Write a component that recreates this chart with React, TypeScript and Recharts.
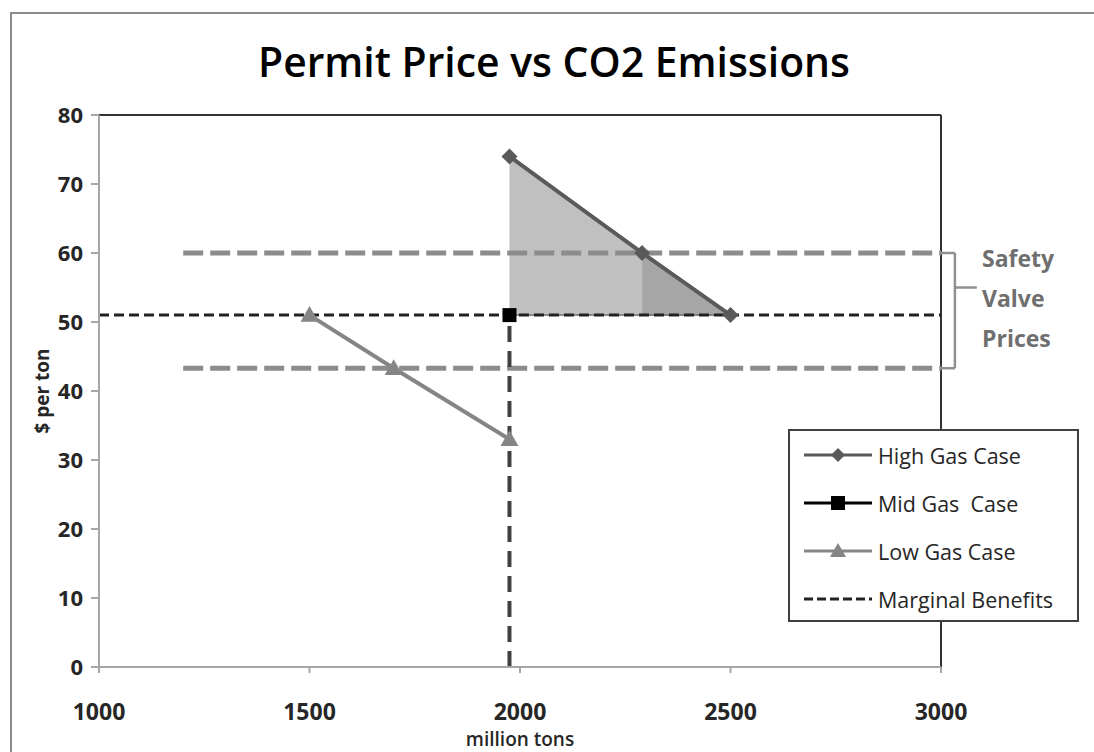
import React from "react";
import {
  Area,
  ComposedChart,
  Line,
  ReferenceLine,
  XAxis,
  YAxis,
} from "recharts";

const TITLE = "Permit Price vs CO2 Emissions";

const xTicks = [1000, 1500, 2000, 2500, 3000];
const yTicks = [0, 10, 20, 30, 40, 50, 60, 70, 80];

// emissions (million tons) vs permit price ($/ton)
const highGasX = [1975, 2290, 2500];
const highGasY = [74, 60, 51];
const midGasX = [1975];
const midGasY = [51];
const lowGasX = [1500, 1700, 1975];
const lowGasY = [51, 43.3, 33];

const marginalBenefitPrice = 51;
const marginalBenefitQty = 1975;
const safetyValvePrices = [60, 43.3];
const safetyValveFrom = 1200;
const safetyValveLabel = ["Safety", "Valve", "Prices"];

const toPoints = (xs: number[], ys: number[]) => xs.map((x, i) => ({ x, y: ys[i] }));

const highGas = toPoints(highGasX, highGasY);
const midGas = toPoints(midGasX, midGasY);
const lowGas = toPoints(lowGasX, lowGasY);

// shaded triangles under the high gas curve, above marginal benefits
const bigTriangle = [
  { x: highGasX[0], r: [marginalBenefitPrice, highGasY[0]] },
  { x: highGasX[2], r: [marginalBenefitPrice, highGasY[2]] },
];
const smallTriangle = [
  { x: highGasX[1], r: [marginalBenefitPrice, highGasY[1]] },
  { x: highGasX[2], r: [marginalBenefitPrice, highGasY[2]] },
];

const mbHorizontal = [
  { x: xTicks[0], y: marginalBenefitPrice },
  { x: xTicks[xTicks.length - 1], y: marginalBenefitPrice },
];
const mbVertical = [
  { x: marginalBenefitQty, y: 0 },
  { x: marginalBenefitQty, y: marginalBenefitPrice },
];
const safetyLines = safetyValvePrices.map((p) => [
  { x: safetyValveFrom, y: p },
  { x: xTicks[xTicks.length - 1], y: p },
]);

const FONT = "'Open Sans', 'DejaVu Sans', sans-serif";
const HIGH_COLOR = "#5a5a5a";
const LOW_COLOR = "#858585";
const AXIS_COLOR = "#a6a6a6";
const BRACE_COLOR = "#8f8f8f";

function Diamond({ cx, cy, size = 7, color = HIGH_COLOR }: any) {
  if (cx == null || cy == null) return null;
  return (
    <polygon
      points={`${cx},${cy - size} ${cx + size},${cy} ${cx},${cy + size} ${cx - size},${cy}`}
      fill={color}
    />
  );
}

function Square({ cx, cy, size = 7, color = "#000" }: any) {
  if (cx == null || cy == null) return null;
  return <rect x={cx - size} y={cy - size} width={size * 2} height={size * 2} fill={color} />;
}

function Triangle({ cx, cy, size = 8, color = LOW_COLOR }: any) {
  if (cx == null || cy == null) return null;
  return (
    <polygon
      points={`${cx},${cy - size} ${cx + size},${cy + size * 0.75} ${cx - size},${cy + size * 0.75}`}
      fill={color}
    />
  );
}

const legendItems = [
  { name: "High Gas Case", color: HIGH_COLOR, marker: "diamond" },
  { name: "Mid Gas  Case", color: "#000", marker: "square" },
  { name: "Low Gas Case", color: LOW_COLOR, marker: "triangle" },
  { name: "Marginal Benefits", color: "#222", marker: "dash" },
];

function LegendBox() {
  return (
    <div
      style={{
        position: "absolute",
        left: 788,
        top: 429,
        width: 287,
        height: 189,
        border: "2px solid #404040",
        background: "#fff",
        fontFamily: FONT,
        fontSize: 21.5,
        color: "#262626",
      }}
    >
      {legendItems.map((it, i) => (
        <div
          key={it.name}
          style={{
            position: "absolute",
            left: 12,
            top: 10 + i * 48,
            height: 28,
            display: "flex",
            alignItems: "center",
            whiteSpace: "pre",
          }}
        >
          <svg width={72} height={28} style={{ marginRight: 4 }}>
            {it.marker === "dash" ? (
              <line x1={2} x2={70} y1={14} y2={14} stroke={it.color} strokeWidth={3} strokeDasharray="9 4" />
            ) : (
              <line x1={2} x2={70} y1={14} y2={14} stroke={it.color} strokeWidth={3} />
            )}
            {it.marker === "diamond" && <Diamond cx={36} cy={14} size={7} color={it.color} />}
            {it.marker === "square" && <Square cx={36} cy={14} size={7} color={it.color} />}
            {it.marker === "triangle" && <Triangle cx={36} cy={14} size={8} color={it.color} />}
          </svg>
          <span>{it.name}</span>
        </div>
      ))}
    </div>
  );
}

export default function App() {
  return (
    <div
      style={{
        position: "absolute",
        left: 0,
        top: 0,
        width: 1094,
        height: 752,
        overflow: "hidden",
        background: "#fff",
      }}
    >
      <div
        style={{
          position: "absolute",
          left: 10,
          top: 12,
          width: 1200,
          height: 900,
          borderTop: "2px solid #8c8c8c",
          borderLeft: "2px solid #8c8c8c",
        }}
      />
      <svg width={1094} height={100} style={{ position: "absolute", left: 0, top: 0 }}>
        <text
          x={554}
          y={77}
          textAnchor="middle"
          textLength={592}
          lengthAdjust="spacingAndGlyphs"
          fontFamily={FONT}
          fontWeight={600}
          fontSize={42}
          fill="#000"
        >
          {TITLE}
        </text>
      </svg>
      <ComposedChart
        width={1094}
        height={752}
        margin={{ top: 115, right: 153, bottom: 0, left: 39 }}
        style={{ position: "absolute", left: 0, top: 0 }}
      >
        <XAxis
          type="number"
          dataKey="x"
          domain={[xTicks[0], xTicks[xTicks.length - 1]]}
          ticks={xTicks}
          allowDataOverflow
          height={85}
          tickSize={6}
          tickMargin={31}
          stroke={AXIS_COLOR}
          strokeWidth={2}
          tick={{ fill: "#262626", fontSize: 23, fontWeight: 700, fontFamily: FONT }}
          label={{
            value: "million tons",
            position: "insideBottom",
            offset: 6,
            style: { fill: "#262626", fontSize: 19, fontWeight: 600, fontFamily: FONT },
          }}
        />
        <YAxis
          type="number"
          dataKey="y"
          domain={[yTicks[0], yTicks[yTicks.length - 1]]}
          ticks={yTicks}
          width={60}
          tickSize={8}
          tickMargin={8}
          stroke={AXIS_COLOR}
          strokeWidth={2}
          tick={{ fill: "#262626", fontSize: 22, fontWeight: 700, fontFamily: FONT }}
          label={{
            value: "$ per ton",
            angle: -90,
            position: "insideLeft",
            offset: 3,
            style: { textAnchor: "middle", fill: "#262626", fontSize: 19, fontWeight: 700, fontFamily: FONT },
          }}
        />
        <ReferenceLine y={yTicks[yTicks.length - 1]} stroke="#333" strokeWidth={2} />
        <ReferenceLine x={xTicks[xTicks.length - 1]} stroke="#333" strokeWidth={2} />

        {safetyLines.map((d, i) => (
          <Line
            key={`sv${i}`}
            data={d}
            dataKey="y"
            stroke="#8c8c8c"
            strokeWidth={5}
            strokeDasharray="20 7"
            dot={false}
            activeDot={false}
            legendType="none"
            isAnimationActive={false}
          />
        ))}
        <Line
          data={mbHorizontal}
          dataKey="y"
          stroke="#222"
          strokeWidth={3}
          strokeDasharray="10 5"
          dot={false}
          activeDot={false}
          isAnimationActive={false}
        />
        <Line
          data={mbVertical}
          dataKey="y"
          stroke="#404040"
          strokeWidth={4}
          strokeDasharray="16 9"
          dot={false}
          activeDot={false}
          isAnimationActive={false}
        />
        <Line
          data={lowGas}
          dataKey="y"
          name="Low Gas Case"
          stroke={LOW_COLOR}
          strokeWidth={4}
          dot={(p: any) => <Triangle key={`lt${p.index}`} cx={p.cx} cy={p.cy} size={9} />}
          activeDot={false}
          isAnimationActive={false}
        />
        <Area
          data={bigTriangle}
          dataKey="r"
          type="linear"
          fill="#c0c0c0"
          fillOpacity={1}
          stroke="#8a8a8a"
          strokeWidth={2}
          dot={false}
          activeDot={false}
          isAnimationActive={false}
        />
        <Area
          data={smallTriangle}
          dataKey="r"
          type="linear"
          fill="#a6a6a6"
          fillOpacity={1}
          stroke="#7f7f7f"
          strokeWidth={2}
          dot={false}
          activeDot={false}
          isAnimationActive={false}
        />
        <Line
          data={highGas}
          dataKey="y"
          name="High Gas Case"
          stroke={HIGH_COLOR}
          strokeWidth={4}
          dot={(p: any) => <Diamond key={`hd${p.index}`} cx={p.cx} cy={p.cy} size={8} />}
          activeDot={false}
          isAnimationActive={false}
        />
        <Line
          data={midGas}
          dataKey="y"
          name="Mid Gas Case"
          stroke="#000"
          strokeWidth={3}
          dot={(p: any) => <Square key={`ms${p.index}`} cx={p.cx} cy={p.cy} size={7} />}
          activeDot={false}
          isAnimationActive={false}
        />

        {/* brace next to the safety valve band */}
        <ReferenceLine
          segment={[{ x: 3000, y: safetyValvePrices[0] }, { x: 3033, y: safetyValvePrices[0] }]}
          stroke={BRACE_COLOR}
          strokeWidth={2.5}
          ifOverflow="visible"
        />
        <ReferenceLine
          segment={[{ x: 3033, y: safetyValvePrices[0] }, { x: 3033, y: safetyValvePrices[1] }]}
          stroke={BRACE_COLOR}
          strokeWidth={2.5}
          ifOverflow="visible"
        />
        <ReferenceLine
          segment={[{ x: 3000, y: safetyValvePrices[1] }, { x: 3033, y: safetyValvePrices[1] }]}
          stroke={BRACE_COLOR}
          strokeWidth={2.5}
          ifOverflow="visible"
        />
        <ReferenceLine
          segment={[{ x: 3033, y: 55 }, { x: 3085, y: 55 }]}
          stroke={BRACE_COLOR}
          strokeWidth={2.5}
          ifOverflow="visible"
        />
      </ComposedChart>

      <div
        style={{
          position: "absolute",
          left: 982,
          top: 238,
          fontFamily: FONT,
          fontSize: 23,
          fontWeight: 700,
          lineHeight: "40px",
          color: "#6f6f6f",
        }}
      >
        {safetyValveLabel.map((w) => (
          <div key={w}>{w}</div>
        ))}
      </div>
      <LegendBox />
    </div>
  );
}
